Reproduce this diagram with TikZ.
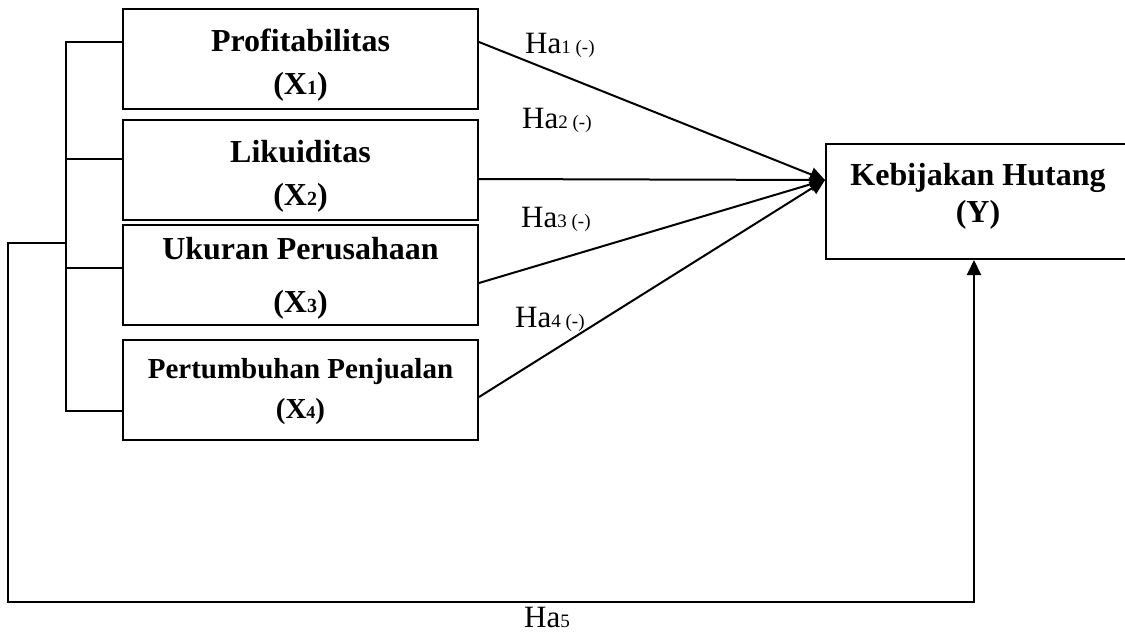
\documentclass[tikz,border=0pt]{standalone}
\usepackage{fontspec}
\setmainfont{Liberation Serif}
\usetikzlibrary{arrows.meta}
\newcommand{\sm}[1]{{\fontsize{20}{20}\selectfont #1}}
\newcommand{\hs}[1]{{\fontsize{19}{19}\selectfont #1}}
\begin{document}
\begin{tikzpicture}[x=1pt,y=-1pt,
  varbox/.style={draw,line width=2pt,minimum width=355pt,minimum height=100pt,inner sep=0pt},
  vartext/.style={inner sep=0pt,align=center,font=\bfseries\fontsize{32}{43}\selectfont},
  conn/.style={line width=2pt},
  arr/.style={line width=2pt,-{Triangle[length=15pt,width=14pt]}},
  halabel/.style={inner sep=0pt,font=\fontsize{31}{31}\selectfont}]
\useasboundingbox (0,0) rectangle (1125,633);

\node[varbox] (P) at (300.5,59) {};
\node[varbox] (L) at (300.5,170) {};
\node[varbox] (U) at (300.5,275) {};
\node[varbox] (G) at (300.5,390) {};
\node[varbox,minimum width=304pt,minimum height=115pt] (Y) at (978,201.5) {};

\node[vartext] (Pt) at ([yshift=-6pt]P.center) {Profitabilitas\\(X\sm{1})};
\node[vartext] (Lt) at ([yshift=-6pt]L.center) {Likuiditas\\(X\sm{2})};
\node[vartext] (Ut) at ([yshift=-3pt]U.center) {Ukuran Perusahaan\\[10pt](X\sm{3})};
\node[vartext,font=\bfseries\fontsize{29}{40}\selectfont] (Gt) at ([yshift=-2pt]G.center) {Pertumbuhan Penjualan\\(X{\fontsize{18}{18}\selectfont 4})};
\node[vartext,font=\bfseries\fontsize{32}{37}\selectfont] (Yt) at ([yshift=5pt]Y.center) {Kebijakan Hutang\\(Y)};

\coordinate (yin) at ([yshift=21.5pt]Y.west);
\coordinate (p1) at ([yshift=17pt]P.east);
\coordinate (l1) at ([yshift=-9pt]L.east);
\coordinate (u1) at ([yshift=-8pt]U.east);
\coordinate (g1) at ([yshift=-7pt]G.east);

\draw[arr] (p1) -- (yin);
\draw[arr] (l1) -- (yin);
\draw[arr] (u1) -- (yin);
\draw[arr] (g1) -- (yin);

\coordinate (bt) at (66,42);
\coordinate (bl) at (66,159);
\coordinate (bm) at (66,243);
\coordinate (bu) at (66,268);
\coordinate (bb) at (66,411);
\coordinate (o1) at (8,243);
\coordinate (o2) at (8,602);
\coordinate (o3) at (974,602);

\draw[conn] ([yshift=17pt]P.west) -- (bt) -- (bb) -- ([yshift=-21pt]G.west);
\draw[conn] (bl) -- ([yshift=11pt]L.west);
\draw[conn] (bu) -- ([yshift=7pt]U.west);
\draw[conn,line cap=rect] (bm) -- (o1) -- (o2) -- (o3);
\draw[arr] (o3) -- ([xshift=-4pt]Y.south);

\node[halabel,anchor=west] (h1) at (525,45) {Ha\hs{1 (-)}};
\node[halabel,anchor=west] (h2) at (522,120) {Ha\hs{2 (-)}};
\node[halabel,anchor=west] (h3) at (521,219) {Ha\hs{3 (-)}};
\node[halabel,anchor=west] (h4) at (515,319) {Ha\hs{4 (-)}};
\node[halabel] (h5) at (547,617) {Ha\hs{5}};
\end{tikzpicture}
\end{document}
